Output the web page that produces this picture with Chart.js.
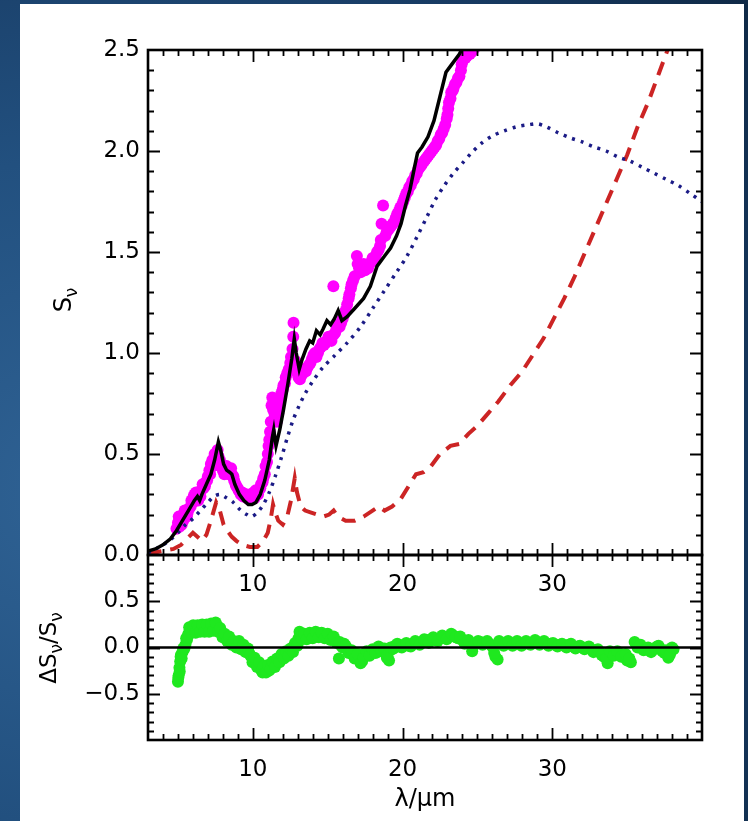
<!DOCTYPE html>
<html lang="en">
<head>
<meta charset="UTF-8">
<title>Spectral fit</title>
<script src="https://cdn.jsdelivr.net/npm/chart.js"></script>
<style>
    html, body {
        margin: 0;
        padding: 0;
    }
    body {
        width: 748px;
        height: 821px;
        overflow: hidden;
        background: radial-gradient(circle at 10% 60%, #2f6294 0%, #22507f 40%, #173a62 75%, #0f2946 100%);
    }
    .sheet {
        position: absolute;
        left: 20px;
        top: 4px;
        width: 724px;
        height: 817px;
        background: #ffffff;
    }
    canvas {
        position: absolute;
        left: 0;
        top: 0;
    }
</style>
</head>
<body>
<div class="sheet"></div>
<canvas id="fluxChart" width="748" height="821"></canvas>
<canvas id="residChart" width="748" height="821"></canvas>

<script>
// observed spectrum (magenta points), first pass
const specWaveA = [4.9, 5.0, 5.1, 5.2, 5.35, 5.5, 5.6, 5.75, 5.9, 6.0, 6.1, 6.25, 6.4, 6.55, 6.7, 6.85, 7.0, 7.1, 7.2, 7.3,
    7.45, 7.6, 7.7, 7.85, 8.0, 8.15, 8.3, 8.45, 8.6, 8.75, 8.9, 9.05, 9.2, 9.35, 9.5, 9.65, 9.8, 9.95, 10.1, 10.25,
    10.4, 10.55, 10.7, 10.85, 11.0, 11.1, 11.2, 11.25, 11.3, 11.45, 11.6, 11.75, 11.9, 12.05, 12.2, 12.4, 12.55, 12.7, 12.72, 12.85,
    13.0, 13.15, 13.35, 13.55, 13.75, 13.95, 14.15, 14.35, 14.55, 14.75, 14.95, 15.15, 15.38, 15.4, 15.6, 15.8, 16.0, 16.2, 16.4, 16.55,
    16.7, 16.95, 17.1, 17.3, 17.5, 17.7, 17.9, 18.1, 18.3, 18.5, 18.6, 18.7, 18.85, 19.05, 19.25, 19.45, 19.65, 19.85, 20.05, 20.25,
    20.45, 20.65, 20.85, 21.05, 21.25, 21.45, 21.65, 21.85, 22.05, 22.25, 22.45, 22.65, 22.85, 23.0, 23.1, 23.25, 23.4, 23.6, 23.8, 23.95,
    24.1, 24.3, 24.5, 24.7, 24.9];
const specFluxA = [0.13, 0.16, 0.14, 0.18, 0.17, 0.20, 0.19, 0.23, 0.27, 0.26, 0.30, 0.28, 0.30, 0.32, 0.33, 0.36, 0.39, 0.42, 0.45, 0.47,
    0.50, 0.51, 0.49, 0.45, 0.42, 0.43, 0.41, 0.42, 0.40, 0.37, 0.34, 0.32, 0.30, 0.29, 0.29, 0.28, 0.28, 0.29, 0.28, 0.30,
    0.32, 0.35, 0.38, 0.44, 0.50, 0.57, 0.66, 0.74, 0.78, 0.70, 0.66, 0.74, 0.80, 0.84, 0.88, 0.92, 0.98, 1.08, 1.15, 0.96,
    0.90, 0.87, 0.90, 0.91, 0.94, 0.97, 1.00, 1.00, 1.03, 1.04, 1.06, 1.07, 1.33, 1.09, 1.12, 1.13, 1.17, 1.21, 1.27, 1.32,
    1.36, 1.48, 1.42, 1.43, 1.41, 1.42, 1.45, 1.46, 1.50, 1.53, 1.64, 1.73, 1.58, 1.61, 1.63, 1.65, 1.69, 1.72, 1.75, 1.79,
    1.82, 1.85, 1.88, 1.91, 1.93, 1.95, 1.97, 1.99, 2.01, 2.03, 2.06, 2.09, 2.13, 2.18, 2.24, 2.29, 2.31, 2.34, 2.37, 2.43,
    2.46, 2.47, 2.48, 2.50, 2.52];

// observed spectrum, second pass
const specWaveB = [5.05, 5.25, 5.45, 5.65, 5.85, 6.05, 6.2, 6.35, 6.5, 6.65, 6.8, 6.95, 7.15, 7.35, 7.55, 7.65, 7.8, 7.95, 8.1, 8.25,
    8.4, 8.55, 8.7, 8.85, 9.0, 9.15, 9.3, 9.45, 9.6, 9.75, 9.9, 10.05, 10.2, 10.35, 10.5, 10.65, 10.8, 10.95, 11.05, 11.15,
    11.35, 11.5, 11.7, 11.85, 12.0, 12.15, 12.3, 12.5, 12.65, 12.9, 13.05, 13.25, 13.45, 13.65, 13.85, 14.05, 14.25, 14.45, 14.65, 14.85,
    15.05, 15.25, 15.5, 15.7, 15.9, 16.1, 16.3, 16.45, 16.6, 16.8, 17.0, 17.2, 17.4, 17.6, 17.8, 18.0, 18.2, 18.4, 18.55, 18.95,
    19.15, 19.35, 19.55, 19.75, 19.95, 20.15, 20.35, 20.55, 20.75, 20.95, 21.15, 21.35, 21.55, 21.75, 21.95, 22.15, 22.35, 22.55, 22.75, 22.95,
    23.05, 23.2, 23.35, 23.5, 23.7, 23.9, 24.05, 24.2, 24.4, 24.6, 24.8];
const specFluxB = [0.19, 0.15, 0.22, 0.21, 0.24, 0.29, 0.31, 0.27, 0.29, 0.35, 0.34, 0.37, 0.40, 0.44, 0.47, 0.52, 0.47, 0.44, 0.40, 0.44,
    0.40, 0.43, 0.39, 0.35, 0.33, 0.31, 0.31, 0.30, 0.30, 0.29, 0.30, 0.31, 0.32, 0.30, 0.33, 0.36, 0.40, 0.46, 0.54, 0.61,
    0.72, 0.68, 0.70, 0.77, 0.82, 0.85, 0.90, 0.95, 1.02, 0.93, 0.88, 0.89, 0.92, 0.93, 0.95, 0.99, 0.98, 1.02, 1.05, 1.05,
    1.08, 1.06, 1.10, 1.14, 1.15, 1.19, 1.24, 1.29, 1.34, 1.38, 1.44, 1.40, 1.44, 1.43, 1.44, 1.47, 1.48, 1.51, 1.56, 1.60,
    1.62, 1.64, 1.67, 1.70, 1.73, 1.77, 1.80, 1.83, 1.86, 1.89, 1.92, 1.94, 1.96, 1.98, 2.00, 2.02, 2.05, 2.08, 2.11, 2.16,
    2.21, 2.26, 2.30, 2.33, 2.36, 2.40, 2.45, 2.46, 2.48, 2.49, 2.51];

// total model (black line)
const fitWave = [3.0, 3.5, 4.0, 4.5, 4.9, 5.3, 5.7, 6.1, 6.3, 6.45, 6.6, 6.9, 7.2, 7.45, 7.7, 7.85, 8.05, 8.25, 8.45, 8.6,
    8.8, 9.1, 9.4, 9.7, 9.95, 10.2, 10.5, 10.8, 11.1, 11.3, 11.4, 11.55, 11.8, 12.05, 12.35, 12.6, 12.77, 12.9, 13.1, 13.3,
    13.55, 13.8, 14.0, 14.25, 14.5, 14.7, 14.95, 15.2, 15.45, 15.7, 15.95, 16.3, 16.8, 17.4, 17.85, 18.3, 18.8, 19.2, 19.6, 19.9,
    20.2, 20.5, 20.8, 21.0, 21.3, 21.7, 22.1, 22.5, 22.9, 23.3, 23.8, 24.2, 24.6];
const fitFlux = [0.02, 0.03, 0.05, 0.08, 0.12, 0.17, 0.22, 0.27, 0.29, 0.27, 0.30, 0.35, 0.40, 0.47, 0.56, 0.52, 0.45, 0.42, 0.41, 0.40,
    0.35, 0.30, 0.27, 0.25, 0.25, 0.26, 0.30, 0.37, 0.47, 0.58, 0.62, 0.54, 0.62, 0.72, 0.85, 0.97, 1.07, 1.00, 0.92, 0.97,
    1.02, 1.06, 1.05, 1.11, 1.09, 1.12, 1.16, 1.14, 1.17, 1.21, 1.16, 1.18, 1.22, 1.27, 1.33, 1.43, 1.48, 1.52, 1.58, 1.64,
    1.73, 1.81, 1.92, 1.99, 2.02, 2.07, 2.15, 2.27, 2.39, 2.43, 2.48, 2.54, 2.62];

// first component (blue dotted)
const warmWave = [3.0, 3.5, 4.0, 4.5, 5.0, 5.5, 6.0, 6.5, 7.0, 7.4, 7.8, 8.2, 8.7, 9.2, 9.6, 9.9, 10.3, 10.7, 11.1, 11.5,
    11.9, 12.3, 12.7, 13.1, 13.5, 14.0, 14.7, 15.5, 16.3, 17.2, 18.0, 18.8, 19.6, 20.3, 21.0, 21.6, 22.2, 22.8, 23.4, 24.0,
    24.6, 25.3, 26.0, 26.8, 27.6, 28.4, 29.0, 29.6, 30.4, 31.2, 32.0, 32.8, 33.6, 34.4, 35.2, 36.0, 36.8, 37.6, 38.4, 39.2, 40.0];
const warmFlux = [0.01, 0.03, 0.05, 0.075, 0.11, 0.15, 0.18, 0.22, 0.26, 0.29, 0.30, 0.285, 0.26, 0.22, 0.20, 0.19, 0.21, 0.25, 0.31, 0.39,
    0.48, 0.58, 0.67, 0.74, 0.80, 0.86, 0.93, 0.99, 1.05, 1.13, 1.22, 1.31, 1.40, 1.48, 1.58, 1.67, 1.76, 1.83, 1.89, 1.94,
    1.99, 2.04, 2.075, 2.10, 2.12, 2.13, 2.135, 2.12, 2.09, 2.065, 2.045, 2.02, 2.00, 1.97, 1.95, 1.92, 1.89, 1.86, 1.83, 1.79, 1.75];

// second component (red dashed)
const coldWave = [3.0, 3.3, 4.0, 4.7, 5.2, 5.6, 6.0, 6.3, 6.6, 6.9, 7.2, 7.55, 7.8, 8.05, 8.3, 8.6, 8.9, 9.3, 9.8, 10.3,
    10.7, 11.0, 11.2, 11.35, 11.5, 11.7, 12.0, 12.3, 12.55, 12.8, 12.95, 13.2, 13.5, 13.9, 14.3, 14.7, 15.1, 15.4, 15.7, 16.2,
    16.8, 17.4, 18.0, 18.4, 18.8, 19.3, 19.9, 20.4, 20.9, 21.4, 21.9, 22.5, 23.2, 23.8, 24.4, 25.0, 25.7, 26.4, 27.2, 28.0,
    28.7, 29.4, 30.1, 30.8, 31.5, 32.2, 32.9, 33.6, 34.3, 35.0, 35.7, 36.4, 37.1, 37.8, 38.4];
const coldFlux = [0.0, 0.01, 0.02, 0.03, 0.05, 0.08, 0.11, 0.09, 0.07, 0.10, 0.17, 0.26, 0.22, 0.15, 0.12, 0.09, 0.07, 0.05, 0.04, 0.04,
    0.07, 0.11, 0.18, 0.25, 0.21, 0.17, 0.15, 0.19, 0.27, 0.38, 0.31, 0.24, 0.22, 0.21, 0.20, 0.19, 0.20, 0.22, 0.19, 0.17,
    0.17, 0.19, 0.22, 0.24, 0.22, 0.24, 0.28, 0.34, 0.40, 0.41, 0.44, 0.50, 0.54, 0.55, 0.60, 0.64, 0.70, 0.76, 0.84, 0.91,
    0.99, 1.07, 1.17, 1.27, 1.38, 1.50, 1.62, 1.74, 1.86, 1.98, 2.12, 2.24, 2.38, 2.52, 2.64];

// fractional residuals (green points), first pass
const residWaveA = [5.0, 5.05, 5.1, 5.15, 5.2, 5.3, 5.4, 5.5, 5.6, 5.7, 5.8, 5.95, 6.1, 6.25, 6.4, 6.55, 6.7, 6.85, 7.0, 7.15,
    7.3, 7.45, 7.6, 7.75, 7.9, 8.05, 8.2, 8.35, 8.5, 8.65, 8.8, 9.0, 9.15, 9.3, 9.45, 9.6, 9.75, 9.9, 10.05, 10.2,
    10.35, 10.5, 10.65, 10.8, 10.95, 11.1, 11.25, 11.4, 11.55, 11.7, 11.85, 12.0, 12.15, 12.3, 12.45, 12.6, 12.75, 12.9, 13.05, 13.2,
    13.35, 13.5, 13.7, 13.9, 14.1, 14.3, 14.5, 14.7, 14.9, 15.1, 15.3, 15.5, 15.75, 15.9, 16.1, 16.3, 16.5, 16.7, 16.9, 17.1,
    17.3, 17.5, 17.7, 17.9, 18.1, 18.3, 18.5, 18.7, 18.95, 19.1, 19.3, 19.5, 19.8, 20.1, 20.4, 20.7, 21.0, 21.3, 21.6, 21.9,
    22.2, 22.5, 22.8, 23.1, 23.4, 23.7, 24.0, 24.3, 24.5, 24.65, 24.9, 25.2, 25.5, 25.8, 26.05, 26.2, 26.35, 26.6, 26.9, 27.2,
    27.5, 27.8, 28.1, 28.4, 28.7, 29.0, 29.3, 29.6, 29.9, 30.2, 30.5, 30.8, 31.1, 31.4, 31.7, 32.0, 32.3, 32.6, 32.9, 33.2,
    33.45, 33.7, 33.95, 34.2, 34.5, 34.75, 35.0, 35.25, 35.6, 35.8, 36.0, 36.25, 36.5, 36.75, 37.0, 37.25, 37.5, 37.75, 37.9, 38.1];
const residValA = [-0.37, -0.30, -0.22, -0.15, -0.08, -0.05, -0.02, 0.03, 0.08, 0.15, 0.20, 0.21, 0.19, 0.21, 0.20, 0.22, 0.21, 0.20, 0.22, 0.21,
    0.23, 0.22, 0.24, 0.20, 0.16, 0.14, 0.12, 0.10, 0.08, 0.06, 0.04, 0.03, 0.04, 0.01, 0.00, -0.03, -0.06, -0.10, -0.13, -0.16,
    -0.19, -0.22, -0.27, -0.24, -0.22, -0.25, -0.20, -0.18, -0.16, -0.13, -0.11, -0.09, -0.07, -0.06, -0.04, -0.02, 0.01, 0.04, 0.10, 0.15,
    0.12, 0.11, 0.13, 0.12, 0.15, 0.13, 0.14, 0.12, 0.13, 0.11, 0.10, 0.08, -0.12, 0.02, 0.04, -0.02, -0.05, -0.08, -0.11, -0.13,
    -0.15, -0.09, -0.07, -0.06, -0.04, -0.02, -0.01, -0.03, -0.11, -0.14, -0.02, 0.02, 0.01, 0.03, 0.02, 0.04, 0.05, 0.06, 0.08, 0.09,
    0.09, 0.10, 0.11, 0.12, 0.13, 0.10, 0.08, 0.06, 0.05, -0.04, 0.04, 0.06, 0.05, 0.04, 0.00, -0.10, -0.13, 0.04, 0.05, 0.04,
    0.05, 0.04, 0.05, 0.04, 0.05, 0.06, 0.05, 0.04, 0.04, 0.03, 0.03, 0.02, 0.03, 0.01, 0.01, 0.00, 0.00, -0.02, -0.03, -0.05,
    -0.10, -0.17, -0.08, -0.06, -0.07, -0.10, -0.14, -0.16, 0.04, 0.02, 0.00, -0.02, -0.03, -0.02, 0.01, -0.02, -0.06, -0.11, -0.05, -0.02];

// fractional residuals, second pass
const residWaveB = [5.02, 5.12, 5.18, 5.25, 5.35, 5.45, 5.55, 5.65, 5.75, 5.88, 6.02, 6.18, 6.32, 6.48, 6.62, 6.78, 6.92, 7.08, 7.22, 7.38,
    7.52, 7.68, 7.82, 7.98, 8.12, 8.28, 8.42, 8.58, 8.72, 8.9, 9.08, 9.22, 9.38, 9.52, 9.68, 9.82, 9.98, 10.12, 10.28, 10.42,
    10.58, 10.72, 10.88, 11.02, 11.18, 11.32, 11.48, 11.62, 11.78, 11.92, 12.08, 12.22, 12.38, 12.52, 12.68, 12.82, 12.98, 13.12, 13.28, 13.42,
    13.6, 13.8, 14.0, 14.2, 14.4, 14.6, 14.8, 15.0, 15.2, 15.4, 15.6, 15.8, 16.0, 16.2, 16.4, 16.6, 16.8, 17.0, 17.2, 17.4,
    17.6, 17.8, 18.0, 18.2, 18.4, 18.6, 18.8, 19.0, 19.2, 19.4, 19.65, 19.95, 20.25, 20.55, 20.85, 21.15, 21.45, 21.75, 22.05, 22.35,
    22.65, 22.95, 23.25, 23.55, 23.85, 24.15, 24.4, 24.75, 25.05, 25.35, 25.65, 25.95, 26.12, 26.45, 26.75, 27.05, 27.35, 27.65, 27.95, 28.25,
    28.55, 28.85, 29.15, 29.45, 29.75, 30.05, 30.35, 30.65, 30.95, 31.25, 31.55, 31.85, 32.15, 32.45, 32.75, 33.05, 33.3, 33.6, 33.85, 34.1,
    34.35, 34.6, 34.9, 35.15, 35.5, 35.7, 35.9, 36.1, 36.4, 36.6, 36.9, 37.1, 37.35, 37.6, 37.85, 38.0];
const residValB = [-0.33, -0.26, -0.10, -0.12, -0.01, 0.00, 0.10, 0.12, 0.22, 0.16, 0.24, 0.16, 0.24, 0.17, 0.25, 0.17, 0.25, 0.17, 0.26, 0.18,
    0.27, 0.17, 0.21, 0.11, 0.15, 0.07, 0.12, 0.03, 0.07, 0.00, 0.07, -0.02, 0.03, -0.05, -0.01, -0.08, -0.16, -0.11, -0.21, -0.16,
    -0.25, -0.20, -0.27, -0.19, -0.23, -0.15, -0.21, -0.12, -0.16, -0.07, -0.12, -0.04, -0.09, -0.01, -0.05, 0.05, 0.02, 0.17, 0.09, 0.15,
    0.09, 0.16, 0.10, 0.17, 0.11, 0.16, 0.10, 0.15, 0.08, 0.12, 0.05, 0.06, 0.00, 0.02, -0.06, -0.03, -0.12, -0.07, -0.17, -0.11,
    -0.04, -0.09, -0.02, -0.06, 0.01, -0.04, -0.01, -0.08, 0.00, -0.01, 0.04, 0.00, 0.05, 0.01, 0.07, 0.03, 0.09, 0.05, 0.11, 0.07,
    0.13, 0.09, 0.15, 0.11, 0.12, 0.04, 0.08, 0.02, 0.07, 0.03, 0.07, 0.02, -0.06, 0.07, 0.02, 0.07, 0.02, 0.07, 0.02, 0.07,
    0.03, 0.08, 0.03, 0.07, 0.02, 0.05, 0.01, 0.04, 0.00, 0.04, -0.01, 0.02, -0.02, 0.01, -0.05, -0.02, -0.08, -0.12, -0.04, -0.09,
    -0.04, -0.10, -0.07, -0.12, 0.06, 0.00, 0.03, -0.03, 0.00, -0.05, -0.01, 0.02, -0.04, -0.03, -0.08, 0.00];

const xTickLabels = [10, 20, 30];
const fluxTickLabels = [0.0, 0.5, 1.0, 1.5, 2.0, 2.5];
const residTickLabels = [-0.5, 0.0, 0.5];

const FONT = '"DejaVu Sans", sans-serif';
const TICK_SIZE = 23;
const X_MIN = 3, X_MAX = 40;

function pairs(xs, ys) {
    return xs.map((x, i) => ({ x: x, y: ys[i] }));
}

function minorList(from, to, step) {
    const out = [];
    for (let v = from; v <= to + 1e-9; v += step) out.push(Math.round(v * 1000) / 1000);
    return out;
}

function fmt(v) {
    const s = Math.abs(v).toFixed(1);
    return v < -1e-9 ? '\u2212' + s : s;
}

// inward tick marks on all four sides plus the frame
const frameTicks = {
    id: 'frameTicks',
    afterDatasetsDraw(chart, args, opts) {
        const { ctx, chartArea: a, scales: { x, y } } = chart;
        ctx.save();
        ctx.strokeStyle = '#000';
        ctx.lineWidth = 1.8;
        ctx.beginPath();
        opts.xMinor.forEach(v => {
            const p = Math.round(x.getPixelForValue(v)) + 0.5;
            const len = opts.xMajor.includes(v) ? 12 : 6;
            ctx.moveTo(p, a.bottom); ctx.lineTo(p, a.bottom - len);
            ctx.moveTo(p, a.top); ctx.lineTo(p, a.top + len);
        });
        opts.yMinor.forEach(v => {
            const p = Math.round(y.getPixelForValue(v)) + 0.5;
            const major = opts.yMajor.some(m => Math.abs(m - v) < 1e-6);
            const len = major ? 12 : 6;
            ctx.moveTo(a.left, p); ctx.lineTo(a.left + len, p);
            ctx.moveTo(a.right, p); ctx.lineTo(a.right - len, p);
        });
        ctx.stroke();
        ctx.lineWidth = 2.6;
        ctx.strokeRect(a.left, a.top, a.right - a.left, a.bottom - a.top);
        ctx.restore();
    }
};

// axis titles with subscripts
function drawParts(ctx, parts, cx, cy, size, rotated) {
    ctx.save();
    ctx.translate(cx, cy);
    if (rotated) ctx.rotate(-Math.PI / 2);
    ctx.fillStyle = '#000';
    ctx.textBaseline = 'alphabetic';
    const big = size + 'px ' + FONT;
    const small = Math.round(size * 0.72) + 'px ' + FONT;
    let total = 0;
    parts.forEach(([t, sub]) => { ctx.font = sub ? small : big; total += ctx.measureText(t).width; });
    let px = -total / 2;
    parts.forEach(([t, sub]) => {
        ctx.font = sub ? small : big;
        ctx.fillText(t, px, sub ? size * 0.62 : size * 0.36);
        px += ctx.measureText(t).width;
    });
    ctx.restore();
}

const axisTitles = {
    id: 'axisTitles',
    afterDraw(chart, args, opts) {
        opts.items.forEach(it => drawParts(chart.ctx, it.parts, it.x, it.y, it.size, it.rotated));
    }
};

function xScale(height) {
    return {
        type: 'linear',
        min: X_MIN,
        max: X_MAX,
        grid: { display: false, drawTicks: false },
        border: { display: false },
        afterBuildTicks: s => { s.ticks = xTickLabels.map(v => ({ value: v })); },
        afterFit: s => { s.height = height; },
        ticks: {
            autoSkip: false,
            maxRotation: 0,
            padding: 16,
            color: '#000',
            font: { family: FONT, size: TICK_SIZE },
            callback: v => String(v)
        }
    };
}

function yScale(min, max, labels) {
    return {
        type: 'linear',
        min: min,
        max: max,
        grid: { display: false, drawTicks: false },
        border: { display: false },
        afterBuildTicks: s => { s.ticks = labels.map(v => ({ value: v })); },
        afterFit: s => { s.width = 148; },
        ticks: {
            autoSkip: false,
            padding: 8,
            color: '#000',
            font: { family: FONT, size: TICK_SIZE },
            callback: v => fmt(v)
        }
    };
}

Chart.defaults.animation = false;
Chart.defaults.font.family = FONT;

new Chart(document.getElementById('fluxChart'), {
    type: 'scatter',
    data: {
        datasets: [
            {
                type: 'line', label: 'model', data: pairs(fitWave, fitFlux),
                borderColor: '#000', borderWidth: 3.5, pointRadius: 0, tension: 0, clip: 0
            },
            {
                type: 'line', label: 'warm', data: pairs(warmWave, warmFlux),
                borderColor: '#1b1b86', borderWidth: 3.5, borderDash: [3, 6], pointRadius: 0, tension: 0.3, clip: 0
            },
            {
                type: 'line', label: 'cold', data: pairs(coldWave, coldFlux),
                borderColor: '#cc2424', borderWidth: 4, borderDash: [14, 9], pointRadius: 0, tension: 0, clip: 0
            },
            {
                label: 'spectrum', data: pairs(specWaveA, specFluxA).concat(pairs(specWaveB, specFluxB)),
                backgroundColor: '#ff00ff', borderWidth: 0, pointRadius: 6, clip: 0
            }
        ]
    },
    options: {
        responsive: false,
        layout: { padding: { top: 50, right: 46, left: 0, bottom: 0 } },
        plugins: {
            legend: { display: false },
            tooltip: { enabled: false },
            frameTicks: {
                xMinor: minorList(4, 39, 1), xMajor: xTickLabels,
                yMinor: minorList(0.1, 2.4, 0.1), yMajor: fluxTickLabels
            },
            axisTitles: {
                items: [{ parts: [['S', false], ['\u03bd', true]], x: 62, y: 300, size: 24, rotated: true }]
            }
        },
        scales: {
            x: xScale(821 - 555),
            y: yScale(0, 2.5, fluxTickLabels)
        }
    },
    plugins: [frameTicks, axisTitles]
});

new Chart(document.getElementById('residChart'), {
    type: 'scatter',
    data: {
        datasets: [
            {
                type: 'line', label: 'zero', data: pairs([X_MIN, X_MAX], [0, 0]),
                borderColor: '#000', borderWidth: 2.5, pointRadius: 0, clip: 0
            },
            {
                label: 'residual', data: pairs(residWaveA, residValA).concat(pairs(residWaveB, residValB)),
                backgroundColor: '#1fe81f', borderWidth: 0, pointRadius: 6, clip: 0
            }
        ]
    },
    options: {
        responsive: false,
        layout: { padding: { top: 555, right: 46, left: 0, bottom: 0 } },
        plugins: {
            legend: { display: false },
            tooltip: { enabled: false },
            frameTicks: {
                xMinor: minorList(4, 39, 1), xMajor: xTickLabels,
                yMinor: minorList(-0.9, 0.9, 0.1), yMajor: residTickLabels
            },
            axisTitles: {
                items: [
                    { parts: [['\u0394S', false], ['\u03bd', true], ['/S', false], ['\u03bd', true]], x: 48, y: 648, size: 23, rotated: true },
                    { parts: [['\u03bb/\u03bcm', false]], x: 425, y: 797, size: 24, rotated: false }
                ]
            }
        },
        scales: {
            x: xScale(821 - 740),
            y: yScale(-1, 1, residTickLabels)
        }
    },
    plugins: [frameTicks, axisTitles]
});
</script>
</body>
</html>
